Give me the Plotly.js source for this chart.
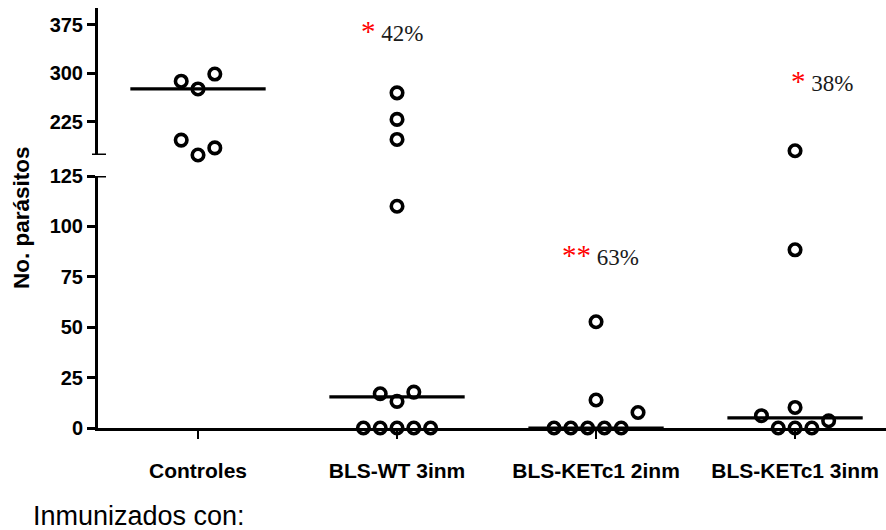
<!DOCTYPE html>
<html>
<head>
<meta charset="utf-8">
<script src="https://cdn.plot.ly/plotly-3.0.1.min.js"></script>
<style>
  html, body { margin: 0; padding: 0; background: #fff; }
  #chart { width: 886px; height: 530px; }
</style>
</head>
<body>
<div id="chart"></div>
<script>
// Parasite counts per immunisation group (values listed left to right within each row)
const groups = ['Controles', 'BLS-WT 3inm', 'BLS-KETc1 2inm', 'BLS-KETc1 3inm'];
const controles = [288, 276, 299, 197, 174, 185];
const blsWt3inm = [270, 229, 198, 110, 17.0, 13.2, 17.8, 0, 0, 0, 0, 0];
const blsKetc1_2inm = [52.7, 13.9, 0, 0, 0, 0, 0, 7.7];
const blsKetc1_3inm = [180.6, 88.4, 10.2, 6.1, 0, 0, 0, 3.6];
const centerLines = [276, 15.4, 0, 5.0];
const significance = ['', '*', '**', '*'];
const reduction = ['', '42%', '63%', '38%'];
const lowerTicks = [0, 25, 50, 75, 100, 125];
const upperTicks = [225, 300, 375];

const series = [controles, blsWt3inm, blsKetc1_2inm, blsKetc1_3inm];

// Broken y axis: two stacked segments
const W = 886, H = 530;
const margin = {l: 98, r: 0, t: 8, b: 102};
const plotW = W - margin.l - margin.r;
const plotH = H - margin.t - margin.b;
const lowerRange = [0, 125];
const upperRange = [174, 401];
const lowerDomain = [0, 0.6];
const upperDomain = [0.65, 1];
const breakAt = 150;
const xRange = [-0.5025, 3.457];

const pxLower = plotH * (lowerDomain[1] - lowerDomain[0]) / (lowerRange[1] - lowerRange[0]);
const pxUpper = plotH * (upperDomain[1] - upperDomain[0]) / (upperRange[1] - upperRange[0]);
const pxPerCat = plotW / (xRange[1] - xRange[0]);

// Column-scatter layout: points closer than rowPx share a row and are spread sideways
const rowPx = 17, slotPx = 16.8;
function spread(values) {
  const idx = values.map((v, i) => i).sort((a, b) => values[a] - values[b] || a - b);
  const rows = [];
  let cur = null;
  idx.forEach(i => {
    const v = values[i];
    const up = v >= breakAt;
    const s = up ? pxUpper : pxLower;
    if (cur && cur.up === up && (v - cur.start) * s <= rowPx) {
      cur.members.push(i);
    } else {
      cur = {start: v, up: up, members: [i]};
      rows.push(cur);
    }
  });
  const offs = new Array(values.length).fill(0);
  rows.forEach(r => {
    const m = r.members.slice().sort((a, b) => a - b);
    m.forEach((i, k) => { offs[i] = (k - (m.length - 1) / 2) * slotPx / pxPerCat; });
  });
  return offs;
}

const low = {x: [], y: []}, high = {x: [], y: []};
series.forEach((vals, g) => {
  const offs = spread(vals);
  vals.forEach((v, i) => {
    const t = v >= breakAt ? high : low;
    t.x.push(g + offs[i]);
    t.y.push(v);
  });
});

const markerStyle = {symbol: 'circle-open', size: 11.5, color: '#000', line: {width: 3.6, color: '#000'}};
const traces = [
  {type: 'scatter', mode: 'markers', x: low.x, y: low.y, yaxis: 'y', marker: markerStyle, cliponaxis: false, hoverinfo: 'y'},
  {type: 'scatter', mode: 'markers', x: high.x, y: high.y, yaxis: 'y2', marker: markerStyle, cliponaxis: false, hoverinfo: 'y'}
];

const halfLine = 0.34;
centerLines.forEach((m, g) => {
  traces.push({
    type: 'scatter', mode: 'lines',
    x: [g - halfLine, g + halfLine], y: [m, m],
    yaxis: m >= breakAt ? 'y2' : 'y',
    line: {color: '#000', width: 3.2},
    cliponaxis: false, hoverinfo: 'skip'
  });
});

const sansBold = 'Liberation Sans, Arial, sans-serif';
const tickFont = {family: sansBold, size: 20, color: '#000', weight: 'bold'};
const catFont = {family: sansBold, size: 21, color: '#000', weight: 'bold'};

// Significance labels: placement per group (axis, value, pixel shift)
const labelPlacement = [null, {axis: 'y2', y: 365, dx: -5}, {axis: 'y', y: 86, dx: 4}, {axis: 'y2', y: 289, dx: 27}];
const annotations = [];
groups.forEach((g, i) => {
  const p = labelPlacement[i];
  if (!p || !reduction[i]) return;
  annotations.push({
    xref: 'x', yref: p.axis, x: i, y: p.y, xshift: p.dx,
    xanchor: 'center', yanchor: 'middle', showarrow: false,
    text: '<span style="color:#ff0000;font-size:29px">' + significance[i] + '</span> ' + reduction[i],
    font: {family: 'Liberation Serif, Times New Roman, serif', size: 23, color: '#1a1a1a'}
  });
});
annotations.push({
  xref: 'paper', yref: 'paper', x: 0, y: 0.5, xshift: -77,
  xanchor: 'center', yanchor: 'middle', textangle: -90, showarrow: false,
  text: 'No. parásitos',
  font: {family: sansBold, size: 22.5, color: '#000', weight: 'bold'}
});
annotations.push({
  xref: 'paper', yref: 'paper', x: 0, y: 0, xshift: -67, yshift: -88,
  xanchor: 'left', yanchor: 'middle', showarrow: false,
  text: 'Inmunizados con:',
  font: {family: sansBold, size: 27, color: '#000'}
});

const capLine = {color: '#000', width: 3};
const shapes = [
  // end cap at the bottom of the upper segment
  {type: 'line', xref: 'paper', xsizemode: 'pixel', xanchor: 0, x0: -6, x1: 8,
   yref: 'y2', y0: upperRange[0], y1: upperRange[0], line: capLine, layer: 'above'},
  // end cap at the top of the lower segment
  {type: 'line', xref: 'paper', xsizemode: 'pixel', xanchor: 0, x0: 0, x1: 8,
   yref: 'y', y0: lowerRange[1], y1: lowerRange[1], line: capLine, layer: 'above'}
];

const layout = {
  width: W, height: H, margin: margin,
  paper_bgcolor: '#fff', plot_bgcolor: '#fff',
  showlegend: false,
  xaxis: {
    range: xRange, tickvals: [0, 1, 2, 3], ticktext: groups,
    showline: true, linewidth: 3, linecolor: '#000', mirror: false,
    ticks: 'outside', ticklen: 8, tickwidth: 2, tickcolor: '#000',
    ticklabelstandoff: 14,
    showgrid: false, zeroline: false, tickfont: catFont, anchor: 'y', fixedrange: true
  },
  yaxis: {
    domain: lowerDomain, range: lowerRange, tickvals: lowerTicks,
    showline: true, linewidth: 3, linecolor: '#000',
    ticks: 'outside', ticklen: 8, tickwidth: 3, tickcolor: '#000',
    showgrid: false, zeroline: false, tickfont: tickFont, anchor: 'x', fixedrange: true
  },
  yaxis2: {
    domain: upperDomain, range: upperRange, tickvals: upperTicks,
    showline: true, linewidth: 3, linecolor: '#000',
    ticks: 'outside', ticklen: 8, tickwidth: 3, tickcolor: '#000',
    showgrid: false, zeroline: false, tickfont: tickFont, anchor: 'x', fixedrange: true
  },
  annotations: annotations,
  shapes: shapes
};

Plotly.newPlot('chart', traces, layout, {displayModeBar: false, staticPlot: true});
</script>
</body>
</html>
